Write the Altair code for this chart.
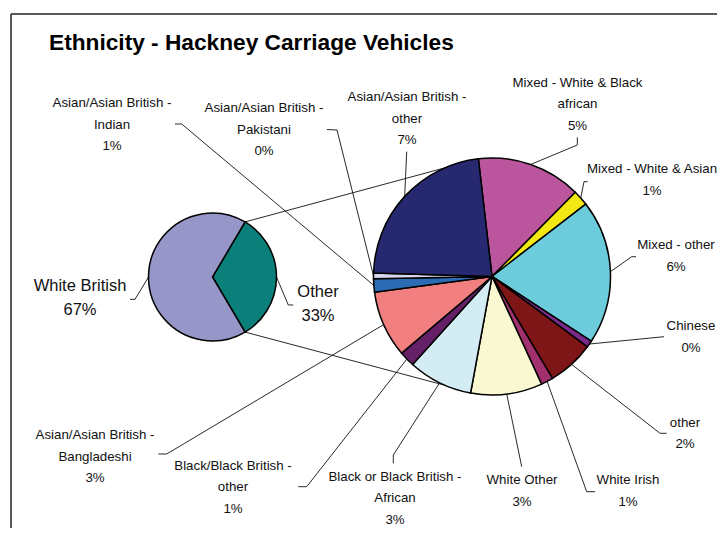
import math
import altair as alt
import pandas as pd

# ---------------- data ----------------
primary_cats = ["Other", "White British"]
primary_vals = [33.0, 67.0]
primary_colors = ["#0B807B", "#9696C9"]

secondary_cats = [
    "Mixed - White & Black african",
    "Mixed - White & Asian",
    "Mixed - other",
    "Chinese",
    "other",
    "White Irish",
    "White Other",
    "Black or Black British - African",
    "Black/Black British - other",
    "Asian/Asian British - Bangladeshi",
    "Asian/Asian British - Indian",
    "Asian/Asian British - Pakistani",
    "Asian/Asian British - other",
]
secondary_vals = [4.7, 0.7, 6.49, 0.3, 2.1, 0.55, 3.22, 2.9, 0.7, 3.0, 0.6, 0.25, 7.49]
secondary_colors = ["#BA559E", "#F3E811", "#6CCCDB", "#7A2A8A", "#7E1517", "#A3306E",
                    "#FAF8D0", "#D4ECF3", "#652067", "#F27F7F", "#2B6CB5", "#D6D6EE", "#262970"]

# display line breaks for labels
label_lines = {
    "Mixed - White & Black african": ["Mixed - White & Black", "african"],
    "Mixed - White & Asian": ["Mixed - White & Asian"],
    "Mixed - other": ["Mixed - other"],
    "Chinese": ["Chinese"],
    "other": ["other"],
    "White Irish": ["White Irish"],
    "White Other": ["White Other"],
    "Black or Black British - African": ["Black or Black British -", "African"],
    "Black/Black British - other": ["Black/Black British -", "other"],
    "Asian/Asian British - Bangladeshi": ["Asian/Asian British -", "Bangladeshi"],
    "Asian/Asian British - Indian": ["Asian/Asian British -", "Indian"],
    "Asian/Asian British - Pakistani": ["Asian/Asian British -", "Pakistani"],
    "Asian/Asian British - other": ["Asian/Asian British -", "other"],
    "White British": ["White British"],
    "Other": ["Other"],
}

# ---------------- layout (page pixel coords) ----------------
OFF = 8
W, H = 709, 520
PCX, PCY, PR = 212.5, 277.0, 64.0        # primary pie
SCX, SCY, SR = 492.0, 276.5, 118.5       # secondary pie
SEC_START = -6.6                         # degrees, clockwise from 12 o'clock

# label centre x, first-line y, leader points from label side (before slice edge)
label_layout = {
    "Asian/Asian British - Indian": (112, 103, [(175, 124), (181.7, 124)]),
    "Asian/Asian British - Pakistani": (264, 108, [(327, 129.5), (337, 130)]),
    "Asian/Asian British - other": (407, 97, [(406.7, 151.7)]),
    "Mixed - White & Black african": (577.5, 82.7, [(577.3, 137.3), (577.3, 145)]),
    "Mixed - White & Asian": (652, 169, [(587.7, 181.7), (584, 181.7)]),
    "Mixed - other": (676, 245, [(636, 256.7), (631.7, 256.7)]),
    "Chinese": (691, 326, [(664, 336.7)]),
    "other": (685, 422.7, [(666.7, 433.3), (660, 433.3)]),
    "White Irish": (628, 480, [(595, 491.7), (586.7, 491.7)]),
    "White Other": (522, 480, [(521.7, 466.7)]),
    "Black or Black British - African": (395, 476.7, [(393.3, 463.3), (393.3, 455)]),
    "Black/Black British - other": (233, 465.7, [(298.3, 486.7), (306.7, 486.7)]),
    "Asian/Asian British - Bangladeshi": (95, 435, [(158.3, 454), (166.7, 454)]),
    "White British": (80, 286, [(130, 299.3), (135, 299.3)]),
    "Other": (318, 291.7, [(293.3, 305), (288.3, 305)]),
}
SMALL_LH = 21.5
BIG_LH = 24


def pct(v):
    return f"{int(math.floor(v + 0.5))}%"


def edge(cx, cy, r, deg):
    a = math.radians(deg)
    return (cx + r * math.sin(a), cy - r * math.cos(a))


# slice mid angles
total_s = sum(secondary_vals)
sec_mid = {}
cum = 0.0
for c, v in zip(secondary_cats, secondary_vals):
    a1 = SEC_START + cum / total_s * 360
    cum += v
    a2 = SEC_START + cum / total_s * 360
    sec_mid[c] = (a1 + a2) / 2

total_p = sum(primary_vals)
other_span = primary_vals[0] / total_p * 360
P_START = 90 - other_span / 2
prim_mid = {"Other": 90.0, "White British": 90.0 + 180.0}

# ---------------- segments ----------------
segs = []


def add_poly(points):
    for (x1, y1), (x2, y2) in zip(points[:-1], points[1:]):
        segs.append({"x": x1 - OFF, "y": y1 - OFF, "x2": x2 - OFF, "y2": y2 - OFF})


for c in secondary_cats:
    pts = list(label_layout[c][2]) + [edge(SCX, SCY, SR, sec_mid[c])]
    add_poly(pts)
for c in primary_cats:
    pts = list(label_layout[c][2]) + [edge(PCX, PCY, PR, prim_mid[c])]
    add_poly(pts)

# connector lines between the pies
top_p = edge(PCX, PCY, PR, P_START)
bot_p = edge(PCX, PCY, PR, P_START + other_span)
top_s = edge(SCX, SCY, SR, SEC_START)
bot_s = edge(SCX, SCY, SR, 180 - SEC_START)
add_poly([top_p, top_s])
add_poly([bot_p, bot_s])
seg_df = pd.DataFrame(segs)

# frame (left and top edges)
frame_df = pd.DataFrame([
    {"x": 11 - OFF, "y": 14 - OFF, "x2": 11 - OFF, "y2": H + 10},
    {"x": 11 - OFF, "y": 14 - OFF, "x2": W + 10, "y2": 14 - OFF},
])

# ---------------- label texts ----------------
small_rows, big_rows = [], []
for c, v in zip(secondary_cats, secondary_vals):
    lx, ly, _ = label_layout[c]
    lines = label_lines[c] + [pct(v / total_p * 100)]
    for i, t in enumerate(lines):
        small_rows.append({"x": lx - OFF, "y": ly + i * SMALL_LH - OFF, "t": t})
for c, v in zip(primary_cats, primary_vals):
    lx, ly, _ = label_layout[c]
    lines = label_lines[c] + [pct(v / total_p * 100)]
    for i, t in enumerate(lines):
        big_rows.append({"x": lx - OFF, "y": ly + i * BIG_LH - OFF, "t": t})
small_df = pd.DataFrame(small_rows)
big_df = pd.DataFrame(big_rows)

# ---------------- chart ----------------
X = lambda f: alt.X(f, scale=None, axis=None)
Y = lambda f: alt.Y(f, scale=None, axis=None)

frame = alt.Chart(frame_df).mark_rule(color="#222222", strokeWidth=1.5).encode(
    x=X("x:Q"), y=Y("y:Q"), x2="x2:Q", y2="y2:Q")

lines = alt.Chart(seg_df).mark_rule(color="#111111", strokeWidth=0.9).encode(
    x=X("x:Q"), y=Y("y:Q"), x2="x2:Q", y2="y2:Q")

prim_df = pd.DataFrame({"pcat": primary_cats, "pv": primary_vals, "k": range(len(primary_cats))})
ps = math.radians(P_START)
prim = alt.Chart(prim_df).mark_arc(outerRadius=PR, stroke="black", strokeWidth=1.5).encode(
    theta=alt.Theta("pv:Q", stack=True, scale=alt.Scale(range=[ps, ps + 2 * math.pi])),
    color=alt.Color("pcat:N", scale=alt.Scale(domain=primary_cats, range=primary_colors), legend=None),
    order=alt.Order("k:Q"),
    x=alt.value(PCX - OFF), y=alt.value(PCY - OFF),
)

sec_df = pd.DataFrame({"scat": secondary_cats, "sv": secondary_vals, "k": range(len(secondary_cats))})
ss = math.radians(SEC_START) + 2 * math.pi
sec = alt.Chart(sec_df).mark_arc(outerRadius=SR, stroke="black", strokeWidth=1.5).encode(
    theta=alt.Theta("sv:Q", stack=True, scale=alt.Scale(range=[ss, ss + 2 * math.pi])),
    color=alt.Color("scat:N", scale=alt.Scale(domain=secondary_cats, range=secondary_colors), legend=None),
    order=alt.Order("k:Q"),
    x=alt.value(SCX - OFF), y=alt.value(SCY - OFF),
)

small_txt = alt.Chart(small_df).mark_text(
    font="Liberation Sans", fontSize=13.3, baseline="middle", align="center", color="#111111"
).encode(x=X("x:Q"), y=Y("y:Q"), text="t:N")

big_txt = alt.Chart(big_df).mark_text(
    font="Liberation Sans", fontSize=16.5, baseline="middle", align="center", color="#111111"
).encode(x=X("x:Q"), y=Y("y:Q"), text="t:N")

title_df = pd.DataFrame({"x": [49 - OFF], "y": [50 - OFF], "t": ["Ethnicity - Hackney Carriage Vehicles"]})
title = alt.Chart(title_df).mark_text(
    font="Liberation Sans", fontSize=22.7, fontWeight="bold", baseline="alphabetic", align="left", color="#000000"
).encode(x=X("x:Q"), y=Y("y:Q"), text="t:N")

chart = alt.layer(frame, lines, prim, sec, small_txt, big_txt, title).resolve_scale(
    theta="independent", color="independent"
).properties(width=W, height=H, padding=0, autosize="none").configure_view(strokeWidth=0)

chart.save("out.html", embed_options={"renderer": "svg", "actions": False})
